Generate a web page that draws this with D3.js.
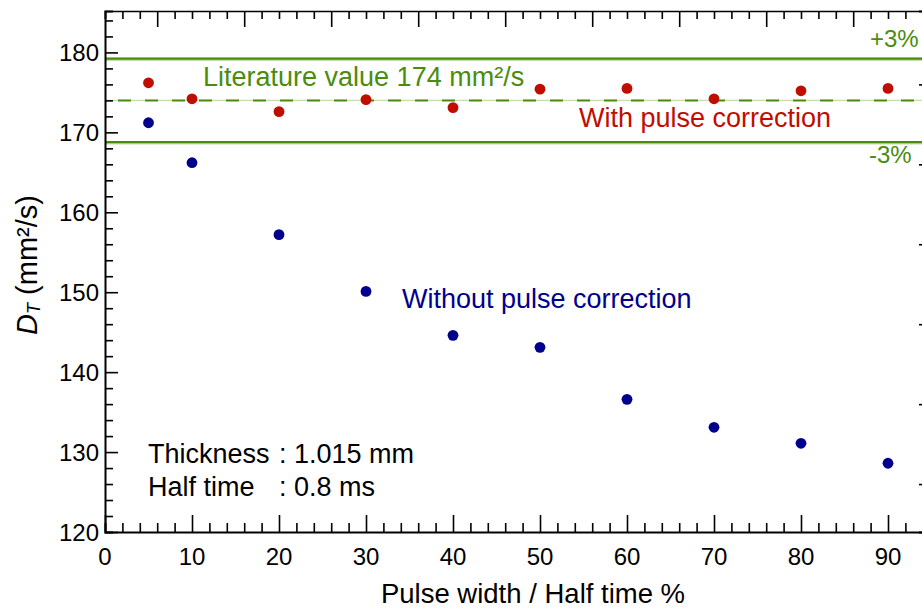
<!DOCTYPE html>
<html>
<head>
<meta charset="utf-8">
<script src="https://cdn.jsdelivr.net/npm/d3@7"></script>
<style>
  body { margin: 0; background: #fff; }
  text { font-family: "Liberation Sans", Arial, sans-serif; }
</style>
</head>
<body>
<div id="chart"></div>
<script>
// data
const pulseWidth = [5, 10, 20, 30, 40, 50, 60, 70, 80, 90];
const withCorrection = [176.2, 174.2, 172.6, 174.1, 173.1, 175.4, 175.5, 174.2, 175.2, 175.5];
const withoutCorrection = [171.2, 166.2, 157.2, 150.1, 144.6, 143.1, 136.6, 133.1, 131.1, 128.6];
const literatureValue = 174;
const bandPercent = 3;
const xTickLabels = [0, 10, 20, 30, 40, 50, 60, 70, 80, 90];
const yTickLabels = [120, 130, 140, 150, 160, 170, 180];

const width = 922, height = 609;
const green = "#4b8c0e", red = "#c00d00", blue = "#00008c";

const svg = d3.select("#chart").append("svg")
  .attr("width", width)
  .attr("height", height);

// plot box runs a little past the right edge of the picture
const plotL = 105, plotR = 932, plotT = 11, plotB = 532;

const x = d3.scaleLinear().domain([0, (plotR - plotL) / 8.7]).range([plotL, plotR]);
const y = d3.scaleLinear().domain([120, 120 + (plotB - plotT) / 7.993]).range([plotB, plotT]);

// reference lines
const hi = literatureValue * (1 + bandPercent / 100);
const lo = literatureValue * (1 - bandPercent / 100);

function hline(v) {
  return svg.append("line")
    .attr("x1", plotL).attr("x2", plotR)
    .attr("y1", y(v)).attr("y2", y(v));
}
[hi, lo].forEach(v => {
  hline(v).attr("stroke", "#c5deb0").attr("stroke-width", 3.5).attr("transform", "translate(0,0.6)");
  hline(v).attr("stroke", green).attr("stroke-width", 2.4);
});
hline(literatureValue).attr("stroke", "#c5deb0").attr("stroke-width", 1.2);
hline(literatureValue).attr("stroke", green).attr("stroke-width", 2)
  .attr("stroke-dasharray", "13,14").attr("stroke-dashoffset", -13);

// axes
const bottomAxis = svg.append("g").attr("transform", `translate(0,${plotB})`);
bottomAxis.call(d3.axisBottom(x).tickValues(d3.range(0, 96, 2)).tickSize(-9).tickFormat(""));
bottomAxis.call(g => g.selectAll(".tick line")
  .filter(d => d % 10 === 0).attr("y2", -17));

const topAxis = svg.append("g").attr("transform", `translate(0,${plotT})`);
topAxis.call(d3.axisTop(x).tickValues(d3.range(0, 96, 2)).tickSize(-8).tickFormat(""));
topAxis.call(g => g.selectAll(".tick line")
  .filter(d => (d - 6) % 10 === 0).attr("y2", 16));

const leftAxis = svg.append("g").attr("transform", `translate(${plotL},0)`);
leftAxis.call(d3.axisLeft(y).tickValues(d3.range(120, 186, 2)).tickSize(-8).tickFormat(""));
leftAxis.call(g => g.selectAll(".tick line")
  .filter(d => d % 10 === 0).attr("x2", 13));

const rightAxis = svg.append("g").attr("transform", `translate(${plotR},0)`);
rightAxis.call(d3.axisRight(y).tickValues(d3.range(126, 186, 10)).tickSize(-13).tickFormat(""));

svg.selectAll(".domain").attr("stroke", "#000").attr("stroke-width", 2);
topAxis.select(".domain").attr("stroke-width", 1.5);
svg.selectAll(".tick line").attr("stroke", "#000").attr("stroke-width", 1.6);

// tick labels
svg.append("g").selectAll("text")
  .data(xTickLabels).join("text")
  .attr("x", d => x(d)).attr("y", 565)
  .attr("text-anchor", "middle")
  .attr("font-size", 24)
  .text(d => d);

svg.append("g").selectAll("text")
  .data(yTickLabels).join("text")
  .attr("x", 99).attr("y", d => y(d) + 9)
  .attr("text-anchor", "end")
  .attr("font-size", 24)
  .text(d => d);

// axis titles
svg.append("text")
  .attr("x", 533).attr("y", 603)
  .attr("text-anchor", "middle")
  .attr("font-size", 27.5)
  .text("Pulse width / Half time %");

const yTitle = svg.append("text")
  .attr("transform", "translate(37,265) rotate(-90)")
  .attr("text-anchor", "middle")
  .attr("font-size", 29);
yTitle.append("tspan").attr("font-style", "italic").text("D");
yTitle.append("tspan").attr("font-size", 18).attr("font-style", "italic").attr("dy", 3).text("T");
yTitle.append("tspan").attr("dy", -3).text(" (mm²/s)");

// points
svg.append("g").selectAll("circle")
  .data(pulseWidth).join("circle")
  .attr("cx", d => x(d))
  .attr("cy", (d, i) => y(withoutCorrection[i]))
  .attr("r", 5.4)
  .attr("fill", blue);

svg.append("g").selectAll("circle")
  .data(pulseWidth).join("circle")
  .attr("cx", d => x(d))
  .attr("cy", (d, i) => y(withCorrection[i]))
  .attr("r", 5.4)
  .attr("fill", red);

// annotations
const fs = 27;
svg.append("text").attr("x", 203).attr("y", 86).attr("font-size", fs)
  .attr("fill", green).text(`Literature value ${literatureValue} mm²/s`);
svg.append("text").attr("x", 579).attr("y", 127).attr("font-size", fs)
  .attr("fill", red).text("With pulse correction");
svg.append("text").attr("x", 402).attr("y", 308).attr("font-size", fs)
  .attr("fill", blue).text("Without pulse correction");
svg.append("text").attr("x", 870).attr("y", 47).attr("font-size", 24)
  .attr("fill", green).text(`+${bandPercent}%`);
svg.append("text").attr("x", 869).attr("y", 163).attr("font-size", 24)
  .attr("fill", green).text(`-${bandPercent}%`);

svg.append("text").attr("x", 148).attr("y", 463).attr("font-size", fs)
  .text("Thickness");
svg.append("text").attr("x", 279).attr("y", 463).attr("font-size", fs)
  .text(": 1.015 mm");
svg.append("text").attr("x", 148).attr("y", 496).attr("font-size", fs)
  .text("Half time");
svg.append("text").attr("x", 279).attr("y", 496).attr("font-size", fs)
  .text(": 0.8 ms");
</script>
</body>
</html>
